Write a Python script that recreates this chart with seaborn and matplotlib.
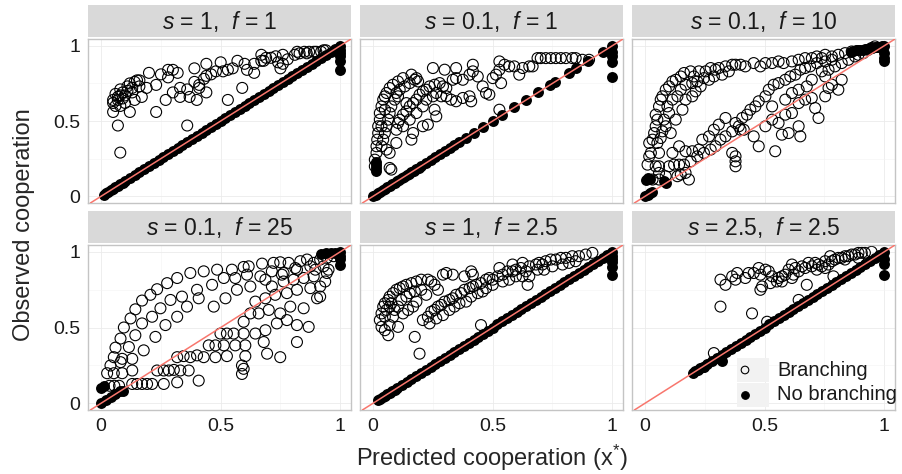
import numpy as np
import pandas as pd
import seaborn as sns
import matplotlib.pyplot as plt
from matplotlib.patches import Rectangle

sns.set_theme(style="white")
plt.rcParams['font.family'] = ['Liberation Sans', 'DejaVu Sans']
plt.rcParams['mathtext.fontset'] = 'custom'
plt.rcParams['mathtext.it'] = 'Liberation Sans:italic'
plt.rcParams['mathtext.rm'] = 'Liberation Sans'

titles = ["$s$ = 1,  $f$ = 1", "$s$ = 0.1,  $f$ = 1", "$s$ = 0.1,  $f$ = 10",
          "$s$ = 0.1,  $f$ = 25", "$s$ = 1,  $f$ = 2.5", "$s$ = 2.5,  $f$ = 2.5"]
tick_vals = [0, 0.5, 1]
tick_labels = ["0", "0.5", "1"]
legend_labels = ["Branching", "No branching"]

# ---- branching points (open circles), (predicted, observed) ----
branch_1 = [(0.05,0.64),(0.05,0.62),(0.07,0.66),(0.07,0.64),(0.08,0.71),(0.09,0.69),(0.09,0.65),(0.05,0.56),
            (0.08,0.60),(0.10,0.62),(0.11,0.73),(0.12,0.75),(0.13,0.69),(0.12,0.56),(0.14,0.64),(0.14,0.76),
            (0.15,0.77),(0.16,0.73),(0.17,0.66),(0.16,0.77),(0.20,0.82),(0.19,0.72),(0.23,0.74),(0.23,0.56),
            (0.25,0.81),(0.28,0.84),(0.28,0.79),(0.30,0.84),(0.32,0.82),(0.07,0.47),(0.08,0.29),(0.27,0.64),
            (0.30,0.69),(0.33,0.72),(0.33,0.66),(0.36,0.71),(0.37,0.66),(0.36,0.47),(0.39,0.76),(0.40,0.64),
            (0.39,0.85),(0.41,0.72),(0.41,0.74),(0.43,0.78),(0.44,0.80),(0.44,0.69),(0.44,0.88),(0.46,0.81),
            (0.48,0.83),(0.50,0.89),(0.51,0.83),(0.53,0.64),(0.53,0.84),(0.55,0.85),(0.57,0.90),(0.59,0.72),
            (0.60,0.88),(0.61,0.84),(0.64,0.88),(0.64,0.82),(0.67,0.94),(0.68,0.90),(0.69,0.92),(0.71,0.92),
            (0.73,0.93),(0.75,0.85),(0.76,0.94),(0.76,0.88),(0.78,0.91),(0.81,0.94),(0.82,0.96),(0.83,0.95),
            (0.85,0.96),(0.86,0.95),(0.87,0.96),(0.89,0.96),(0.90,0.96),(0.92,0.96),(0.93,0.97),(0.94,0.97),
            (0.67,0.90),(0.74,0.89),(0.06,0.60),(0.10,0.67),(0.11,0.70),(0.13,0.72),(0.08,0.67),(0.06,0.68)]

branch_2 = [(0.007,0.199),(0.007,0.243),(0.014,0.288),(0.014,0.332),(0.017,0.376),(0.021,0.42),(0.021,0.465),
            (0.028,0.509),(0.028,0.553),(0.035,0.597),(0.042,0.642),(0.049,0.664),(0.056,0.686),(0.069,0.719),
            (0.083,0.741),(0.104,0.763),(0.125,0.785),(0.16,0.808),(0.181,0.785),(0.188,0.763),(0.035,0.332),
            (0.042,0.376),(0.049,0.42),(0.056,0.465),(0.063,0.509),(0.069,0.553),(0.069,0.288),(0.056,0.31),
            (0.076,0.597),(0.09,0.642),(0.104,0.664),(0.111,0.708),(0.132,0.73),(0.153,0.752),(0.174,0.774),
            (0.069,0.188),(0.097,0.686),(0.049,0.575),(0.035,0.465),(0.097,0.442),(0.104,0.487),(0.111,0.509),
            (0.125,0.542),(0.139,0.564),(0.153,0.597),(0.167,0.619),(0.181,0.642),(0.194,0.675),(0.208,0.697),
            (0.222,0.708),(0.236,0.73),(0.257,0.741),(0.278,0.752),(0.292,0.73),(0.306,0.719),(0.333,0.774),
            (0.347,0.785),(0.375,0.774),(0.403,0.808),(0.417,0.83),(0.4375,0.796),(0.458,0.73),(0.472,0.686),
            (0.486,0.675),(0.5,0.785),(0.514,0.808),(0.528,0.841),(0.535,0.752),(0.549,0.874),(0.569,0.863),
            (0.59,0.863),(0.611,0.808),(0.625,0.852),(0.653,0.863),(0.667,0.863),(0.6875,0.918),(0.701,0.918),
            (0.722,0.918),(0.743,0.918),(0.764,0.918),(0.785,0.918),(0.806,0.918),(0.833,0.918),(0.847,0.918),
            (0.875,0.907),(0.903,0.907),(0.125,0.465),(0.153,0.509),(0.181,0.553),(0.208,0.597),(0.222,0.642),
            (0.25,0.664),(0.264,0.686),(0.285,0.664),(0.306,0.664),(0.326,0.642),(0.347,0.631),(0.375,0.653),
            (0.403,0.664),(0.41,0.631),(0.139,0.619),(0.25,0.852),(0.299,0.841),(0.347,0.852),(0.417,0.874),
            (0.528,0.896),(0.257,0.575),(0.264,0.531),(0.229,0.476),(0.208,0.465),(0.167,0.42),(0.16,0.376),
            (0.097,0.354),(0.076,0.177),(0.528,0.575)]

branch_3 = [(0.01,0.21),(0.017,0.265),(0.024,0.288),(0.017,0.354),(0.031,0.376),(0.0375,0.42),(0.044,0.465),
            (0.051,0.509),(0.044,0.542),(0.058,0.597),(0.065,0.642),(0.072,0.664),(0.086,0.708),(0.1,0.73),
            (0.114,0.763),(0.128,0.774),(0.149,0.796),(0.1625,0.819),(0.19,0.83),(0.204,0.796),(0.225,0.83),
            (0.253,0.83),(0.274,0.852),(0.294,0.841),(0.308,0.852),(0.336,0.863),(0.364,0.874),(0.378,0.874),
            (0.399,0.874),(0.419,0.863),(0.454,0.885),(0.482,0.863),(0.503,0.885),(0.531,0.885),(0.558,0.896),
            (0.579,0.885),(0.614,0.896),(0.642,0.907),(0.669,0.918),(0.697,0.918),(0.718,0.929),(0.739,0.918),
            (0.753,0.94),(0.781,0.929),(0.808,0.94),(0.836,0.951),(0.864,0.962),(0.058,0.288),(0.051,0.354),
            (0.065,0.387),(0.072,0.431),(0.086,0.465),(0.079,0.509),(0.1,0.553),(0.093,0.597),(0.114,0.642),
            (0.135,0.664),(0.149,0.708),(0.169,0.741),(0.197,0.752),(0.218,0.763),(0.246,0.785),(0.267,0.774),
            (0.2875,0.796),(0.322,0.808),(0.35,0.83),(0.107,0.42),(0.128,0.509),(0.156,0.575),(0.169,0.642),
            (0.197,0.664),(0.211,0.697),(0.232,0.73),(0.142,0.332),(0.114,0.288),(0.044,0.199),(0.058,0.199),
            (0.1,0.199),(0.121,0.21),(0.142,0.21),(0.1625,0.21),(0.19,0.232),(0.218,0.265),(0.246,0.288),
            (0.274,0.31),(0.294,0.332),(0.315,0.376),(0.336,0.398),(0.364,0.431),(0.392,0.465),(0.406,0.52),
            (0.426,0.542),(0.44,0.575),(0.461,0.597),(0.475,0.631),(0.503,0.664),(0.517,0.708),(0.5375,0.741),
            (0.558,0.752),(0.586,0.774),(0.607,0.796),(0.628,0.808),(0.649,0.841),(0.669,0.852),(0.69,0.863),
            (0.718,0.885),(0.753,0.896),(0.781,0.907),(0.169,0.299),(0.197,0.299),(0.225,0.31),(0.239,0.376),
            (0.267,0.398),(0.2875,0.442),(0.308,0.476),(0.336,0.52),(0.378,0.487),(0.399,0.442),(0.364,0.288),
            (0.378,0.232),(0.378,0.199),(0.378,0.265),(0.4125,0.442),(0.454,0.398),(0.475,0.332),(0.544,0.299),
            (0.503,0.465),(0.531,0.509),(0.558,0.487),(0.586,0.542),(0.614,0.553),(0.642,0.619),(0.669,0.642),
            (0.697,0.653),(0.725,0.52),(0.711,0.586),(0.753,0.664),(0.767,0.719),(0.781,0.741),(0.808,0.708),
            (0.822,0.774),(0.753,0.796),(0.649,0.398),(0.6,0.42),(0.572,0.409),(0.642,0.465),(0.531,0.597),
            (0.586,0.642),(0.614,0.686),(0.642,0.708),(0.676,0.73),(0.697,0.774),(0.739,0.83),(0.767,0.841),
            (0.794,0.863),(0.822,0.885),(0.85,0.907),(0.878,0.929),(0.892,0.94),(0.9125,0.951),(0.933,0.973),
            (0.947,0.985),(0.961,0.996),(0.135,0.133),(0.149,0.144),(0.169,0.155),(0.183,0.111),(0.031,0.111),
            (0.058,0.111),(0.086,0.133),(0.058,0.155)]

branch_4 = [(0.025,0.198),(0.039,0.249),(0.053,0.304),(0.06,0.367),(0.081,0.427),(0.095,0.5),(0.123,0.56),
            (0.143,0.62),(0.171,0.678),(0.206,0.716),(0.234,0.753),(0.276,0.793),(0.318,0.827),(0.373,0.86),
            (0.429,0.871),(0.485,0.882),(0.547,0.882),(0.596,0.9),(0.617,0.904),(0.673,0.922),(0.721,0.927),
            (0.749,0.931),(0.784,0.927),(0.833,0.938),(0.861,0.949),(0.053,0.198),(0.081,0.271),(0.088,0.293),
            (0.116,0.371),(0.143,0.449),(0.171,0.527),(0.213,0.571),(0.248,0.627),(0.29,0.682),(0.338,0.704),
            (0.401,0.749),(0.464,0.782),(0.513,0.827),(0.561,0.827),(0.61,0.849),(0.666,0.838),(0.714,0.871),
            (0.763,0.86),(0.819,0.882),(0.875,0.904),(0.088,0.198),(0.13,0.216),(0.13,0.293),(0.178,0.349),
            (0.227,0.438),(0.269,0.516),(0.318,0.571),(0.359,0.638),(0.408,0.693),(0.471,0.638),(0.52,0.693),
            (0.568,0.749),(0.624,0.771),(0.687,0.816),(0.756,0.849),(0.812,0.893),(0.889,0.927),(0.13,0.127),
            (0.15,0.127),(0.171,0.127),(0.192,0.127),(0.213,0.127),(0.262,0.127),(0.318,0.138),(0.408,0.149),
            (0.234,0.216),(0.262,0.216),(0.283,0.216),(0.304,0.22),(0.331,0.216),(0.366,0.216),(0.318,0.304),
            (0.345,0.311),(0.373,0.304),(0.401,0.316),(0.429,0.304),(0.478,0.304),(0.526,0.311),(0.589,0.249),
            (0.589,0.193),(0.596,0.227),(0.45,0.382),(0.478,0.382),(0.513,0.382),(0.561,0.382),(0.603,0.311),
            (0.603,0.382),(0.68,0.404),(0.694,0.327),(0.749,0.304),(0.819,0.404),(0.499,0.46),(0.526,0.46),
            (0.554,0.46),(0.596,0.46),(0.645,0.46),(0.687,0.482),(0.735,0.527),(0.777,0.549),(0.819,0.516),
            (0.868,0.504),(0.596,0.538),(0.624,0.593),(0.659,0.593),(0.701,0.616),(0.749,0.593),(0.791,0.638),
            (0.847,0.627),(0.903,0.693),(0.916,0.704),(0.645,0.671),(0.687,0.693),(0.728,0.716),(0.777,0.727),
            (0.819,0.749),(0.875,0.76),(0.916,0.771),(0.714,0.771),(0.763,0.804),(0.805,0.816),(0.847,0.827),
            (0.889,0.838),(0.937,0.804),(0.944,0.86),(0.951,0.882),(0.93,0.904),(0.896,0.882),(0.916,0.949),
            (0.944,0.96),(0.972,0.971),(0.035,0.115),(0.055,0.115),(0.075,0.115)]

branch_5 = [(0.028,0.549),(0.035,0.593),(0.042,0.638),(0.049,0.66),(0.056,0.616),(0.063,0.682),(0.069,0.704),
            (0.083,0.727),(0.097,0.749),(0.111,0.76),(0.125,0.771),(0.139,0.782),(0.16,0.793),(0.181,0.804),
            (0.201,0.816),(0.229,0.816),(0.243,0.804),(0.257,0.782),(0.271,0.749),(0.292,0.849),(0.306,0.86),
            (0.333,0.849),(0.035,0.504),(0.049,0.482),(0.063,0.449),(0.069,0.516),(0.083,0.571),(0.09,0.616),
            (0.104,0.638),(0.104,0.504),(0.118,0.682),(0.139,0.704),(0.153,0.727),(0.174,0.738),(0.201,0.749),
            (0.222,0.716),(0.125,0.593),(0.146,0.616),(0.167,0.638),(0.181,0.671),(0.069,0.638),(0.049,0.571),
            (0.076,0.66),(0.174,0.438),(0.194,0.327),(0.208,0.549),(0.229,0.571),(0.243,0.604),(0.257,0.616),
            (0.271,0.638),(0.285,0.649),(0.299,0.671),(0.319,0.682),(0.333,0.693),(0.347,0.716),(0.368,0.727),
            (0.382,0.749),(0.403,0.76),(0.417,0.771),(0.431,0.782),(0.451,0.793),(0.472,0.816),(0.486,0.827),
            (0.5,0.816),(0.521,0.838),(0.542,0.849),(0.5625,0.871),(0.583,0.871),(0.597,0.882),(0.618,0.893),
            (0.639,0.871),(0.653,0.904),(0.681,0.916),(0.694,0.927),(0.708,0.916),(0.722,0.938),(0.743,0.949),
            (0.764,0.949),(0.785,0.96),(0.806,0.96),(0.833,0.971),(0.861,0.971),(0.889,0.982),(0.917,0.993),
            (0.236,0.527),(0.264,0.56),(0.292,0.582),(0.319,0.616),(0.34,0.638),(0.361,0.66),(0.389,0.671),
            (0.41,0.704),(0.4375,0.727),(0.458,0.738),(0.472,0.76),(0.5,0.782),(0.542,0.804),(0.569,0.816),
            (0.597,0.838),(0.625,0.838),(0.653,0.838),(0.6875,0.882),(0.715,0.882),(0.75,0.904),(0.792,0.916),
            (0.819,0.927),(0.847,0.938),(0.382,0.838),(0.41,0.871),(0.417,0.849),(0.528,0.893),(0.583,0.916),
            (0.625,0.927),(0.646,0.782),(0.451,0.516)]

branch_6 = [(0.315,0.816),(0.336,0.782),(0.364,0.838),(0.378,0.816),(0.385,0.86),(0.419,0.827),(0.433,0.86),
            (0.454,0.86),(0.475,0.893),(0.482,0.849),(0.489,0.771),(0.482,0.749),(0.503,0.882),(0.517,0.871),
            (0.531,0.838),(0.524,0.793),(0.551,0.804),(0.558,0.827),(0.572,0.838),(0.586,0.849),(0.6,0.882),
            (0.614,0.916),(0.621,0.849),(0.642,0.871),(0.656,0.904),(0.669,0.893),(0.676,0.782),(0.697,0.904),
            (0.711,0.927),(0.725,0.916),(0.739,0.904),(0.753,0.938),(0.767,0.916),(0.781,0.938),(0.794,0.949),
            (0.808,0.96),(0.822,0.96),(0.836,0.971),(0.85,0.971),(0.864,0.982),(0.878,0.982),(0.892,0.993),
            (0.906,0.993),(0.919,0.993),(0.315,0.638),(0.447,0.593),(0.2875,0.331),(0.51,0.538),(0.642,0.682),
            (0.7875,0.838),(0.572,0.804),(0.614,0.827),(0.628,0.893),(0.683,0.927),(0.718,0.882),(0.753,0.893),
            (0.774,0.971),(0.836,0.949),(0.892,0.96),(0.947,1.0)]

# ---- no branching points (filled), lying on the diagonal: observed == predicted ----
diag_1 = [0.01,0.02,0.03,0.04,0.05,0.06,0.07,0.08,0.09,0.10,0.12,0.14,0.16,0.18,0.20,0.22,0.24,0.26,0.28,
          0.30,0.32,0.34,0.36,0.38,0.40,0.42,0.44,0.46,0.48,0.50,0.52,0.54,0.56,0.58,0.60,0.62,0.64,0.66,
          0.68,0.70,0.72,0.74,0.76,0.78,0.80,0.82,0.84,0.86,0.88,0.90,0.92,0.94,0.96,0.98,1.00]
diag_2 = [0.00,0.01,0.02,0.03,0.04,0.05,0.06,0.07,0.08,0.09,0.10,0.11,0.12,0.13,0.14,0.15,0.16,0.17,0.18,
          0.19,0.20,0.22,0.24,0.26,0.28,0.30,0.32,0.34,0.36,0.39,0.42,0.46,0.50,0.54,0.59,0.64,0.69,0.74,
          0.76,0.82,0.85,0.90,0.96,1.00]
diag_3 = [0.00,0.01,0.02,0.03]
diag_4 = [0.00,0.02,0.04,0.06,0.08]
diag_5 = [0.02,0.03,0.04,0.05,0.06,0.07,0.08,0.09,0.10,0.12,0.14,0.16,0.18,0.20,0.22,0.24,0.26,0.28,0.30,
          0.32,0.34,0.36,0.38,0.40,0.42,0.44,0.46,0.48,0.50,0.52,0.54,0.56,0.58,0.60,0.62,0.64,0.66,0.68,
          0.70,0.72,0.74,0.76,0.78,0.80,0.82,0.84,0.86,0.88,0.90,0.92,0.94,0.96,0.98,1.00]
diag_6 = [0.20,0.21,0.22,0.23,0.24,0.26,0.28,0.30,0.32,0.34,0.36,0.38,0.40,0.42,0.44,0.46,0.48,0.50,0.52,
          0.54,0.56,0.58,0.60,0.62,0.64,0.66,0.68,0.70,0.72,0.74,0.76,0.78,0.80,0.82,0.84,0.86,0.88,0.90,
          0.92,0.94,0.96,0.98,1.00]

# no branching points away from the diagonal
off_1 = [(1.0,0.84),(1.0,0.90),(1.0,0.93),(1.0,0.95),(1.0,0.97)]
off_2 = [(1.0,0.79),(1.0,0.89),(1.0,0.93),(1.0,0.96),(0.01,0.17),(0.01,0.19),(0.01,0.21),(0.01,0.23)]
off_3 = [(0.003,0.11),(0.01,0.12),(0.02,0.115),(0.08,0.10),(0.086,0.09),(0.86,0.96),(0.87,0.965),(0.88,0.97),
         (0.89,0.97),(0.90,0.975),(0.91,0.975),(0.92,0.98),(0.93,0.98),(0.94,0.985),(0.95,0.985),(0.96,0.99),
         (0.97,0.99),(0.98,0.995),(0.99,1.0),(1.0,1.0),(1.0,0.95),(1.0,0.92),(1.0,0.90)]
off_4 = [(0.09,0.08),(0.0,0.10),(0.01,0.115),(0.92,0.985),(0.94,0.99),(0.96,0.99),(0.98,0.995),(1.0,1.0),
         (1.0,0.97),(1.0,0.95),(1.0,0.915)]
off_5 = [(1.0,0.85),(1.0,0.90),(1.0,0.93),(1.0,0.95),(1.0,0.97)]
off_6 = [(0.246,0.238),(0.322,0.282),(1.0,0.85),(1.0,0.92),(1.0,0.95)]

branches = [branch_1, branch_2, branch_3, branch_4, branch_5, branch_6]
diags = [diag_1, diag_2, diag_3, diag_4, diag_5, diag_6]
offs = [off_1, off_2, off_3, off_4, off_5, off_6]

W, H = 902, 474
fig = plt.figure(figsize=(W / 100, H / 100), dpi=100)

def px_axes(l, t, r, b):
    return fig.add_axes([l / W, 1 - b / H, (r - l) / W, (b - t) / H])

cols = [(88, 351), (360, 623), (632, 895)]
rows = [((5, 37), (39, 203)), ((211, 243), (245, 410))]

axes = []
k = 0
for ri, (strip, panel) in enumerate(rows):
    for ci, (l, r) in enumerate(cols):
        sax = px_axes(l, strip[0], r, strip[1])
        sax.set_facecolor('#D9D9D9')
        sax.set_xticks([]); sax.set_yticks([])
        for sp in sax.spines.values():
            sp.set_visible(False)
        sax.text(0.5, 0.47, titles[k], ha='center', va='center', fontsize=16.5, color='#1A1A1A',
                 transform=sax.transAxes)

        ax = px_axes(l, panel[0], r, panel[1])
        bx, by = zip(*branches[k])
        sns.scatterplot(x=list(bx), y=list(by), ax=ax, marker='o', s=62, facecolor='none',
                        edgecolor='black', linewidth=0.8, zorder=2)
        ox, oy = zip(*offs[k])
        nx = list(diags[k]) + list(ox)
        ny = list(diags[k]) + list(oy)
        sns.scatterplot(x=nx, y=ny, ax=ax, color='black', s=62, linewidth=0, zorder=3)
        ax.axline((0, 0), slope=1, color='#F8766D', lw=1.1, zorder=4)

        ax.set_xlim(-0.055, 1.045)
        ax.set_ylim(-0.045, 1.045)
        ax.set_xticks(tick_vals)
        ax.set_yticks(tick_vals)
        ax.set_xticks([0.25, 0.75], minor=True)
        ax.set_yticks([0.25, 0.75], minor=True)
        ax.grid(which='major', color='#EBEBEB', lw=0.6, zorder=0)
        ax.grid(which='minor', color='#F3F3F3', lw=0.4, zorder=0)
        ax.set_axisbelow(True)
        for sp in ax.spines.values():
            sp.set_color('#C4C4C4')
            sp.set_linewidth(1.0)
        ax.tick_params(which='minor', length=0)
        ax.tick_params(which='major', length=3.5, width=0.8, color='#333333',
                       labelsize=14, labelcolor='#1A1A1A', pad=2)
        if ci == 0:
            ax.set_yticklabels(tick_labels)
        else:
            ax.tick_params(axis='y', length=0, labelleft=False)
        if ri == 1:
            ax.set_xticklabels(tick_labels)
        else:
            ax.tick_params(axis='x', length=0, labelbottom=False)
        axes.append(ax)
        k += 1

# legend inside last panel (ggplot-like keys)
lax = axes[5]
key_rows = [(358, 382), (383, 407)]
pl, pt, pr, pb = 632, 245, 895, 410
for (kt, kb), lab, filled in zip(key_rows, legend_labels, [False, True]):
    x0 = (737 - pl) / (pr - pl)
    y0 = (pb - kb) / (pb - pt)
    lax.add_patch(Rectangle((x0, y0), 32 / (pr - pl), (kb - kt) / (pb - pt), transform=lax.transAxes,
                            facecolor='#F2F2F2', edgecolor='none', zorder=5))
    yc = (pb - (kt + kb) / 2) / (pb - pt)
    lax.scatter([(745 - pl) / (pr - pl)], [yc], transform=lax.transAxes, s=30, marker='o',
                facecolors='black' if filled else 'none', edgecolors='black', linewidths=0.8, zorder=6)
    lax.text((777 - pl) / (pr - pl), yc, lab, transform=lax.transAxes, ha='left', va='center',
             fontsize=14.5, color='#1A1A1A', zorder=6, clip_on=False)

fig.text(492 / W, 1 - 458 / H, "Predicted cooperation (x$^{*}$)", ha='center', va='center', fontsize=17)
fig.text(24 / W, 1 - 225 / H, "Observed cooperation", ha='center', va='center', rotation=90, fontsize=17)

fig.savefig("out.png", dpi=100)
